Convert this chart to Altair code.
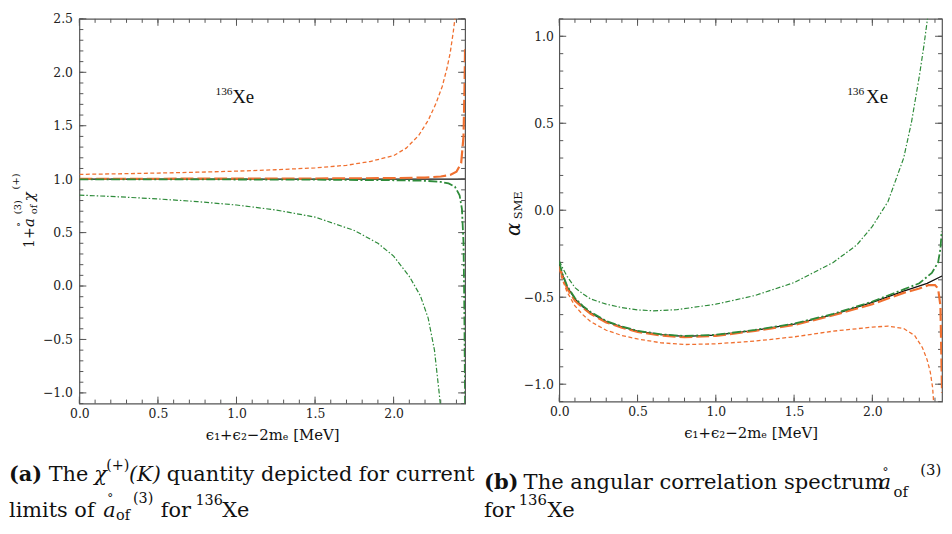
import altair as alt
import pandas as pd

# ---------------- data ----------------
# Panel (a): 1 + a chi^(+)
A_black_x = [0.0, 2.455]
A_black_y = [1.0, 1.0]
A_orfar_x = [0.0, 0.25, 0.5, 0.75, 1.0, 1.25, 1.5, 1.7, 1.85, 2.0, 2.08, 2.16, 2.22, 2.27, 2.31, 2.34, 2.36, 2.38, 2.39, 2.40]
A_orfar_y = [1.045, 1.05, 1.057, 1.065, 1.075, 1.088, 1.106, 1.13, 1.165, 1.22, 1.29, 1.41, 1.55, 1.71, 1.87, 2.04, 2.18, 2.38, 2.5, 2.65]
A_orclose_x = [0.0, 0.5, 1.0, 1.5, 2.0, 2.2, 2.3, 2.36, 2.40, 2.43, 2.445, 2.452, 2.455]
A_orclose_y = [1.004, 1.004, 1.005, 1.006, 1.01, 1.015, 1.025, 1.04, 1.07, 1.15, 1.4, 1.9, 2.25]
A_grfar_x = [0.0, 0.25, 0.5, 0.75, 1.0, 1.25, 1.5, 1.75, 1.9, 2.0, 2.1, 2.17, 2.22, 2.26, 2.29, 2.30]
A_grfar_y = [0.851, 0.835, 0.815, 0.79, 0.758, 0.712, 0.645, 0.52, 0.40, 0.28, 0.09, -0.09, -0.3, -0.6, -1.0, -1.15]
A_grclose_x = [0.0, 0.5, 1.0, 1.5, 2.0, 2.2, 2.3, 2.35, 2.39, 2.42, 2.435, 2.445, 2.45, 2.455]
A_grclose_y = [0.998, 0.998, 0.997, 0.995, 0.99, 0.985, 0.975, 0.96, 0.93, 0.85, 0.72, 0.4, -0.2, -1.1]

# Panel (b): alpha_SME
B_black_x = [0.0, 0.02, 0.05, 0.1, 0.15, 0.2, 0.3, 0.4, 0.5, 0.65, 0.8, 1.0, 1.25, 1.5, 1.75, 2.0, 2.2, 2.35, 2.445]
B_black_y = [-0.31, -0.37, -0.44, -0.51, -0.555, -0.59, -0.64, -0.67, -0.695, -0.715, -0.725, -0.718, -0.69, -0.655, -0.6, -0.53, -0.465, -0.42, -0.378]
B_grclose_x = [0.0, 0.02, 0.05, 0.1, 0.15, 0.2, 0.3, 0.4, 0.5, 0.65, 0.8, 1.0, 1.25, 1.5, 1.75, 2.0, 2.2, 2.3, 2.38, 2.42, 2.435, 2.443]
B_grclose_y = [-0.30, -0.365, -0.435, -0.505, -0.55, -0.585, -0.637, -0.668, -0.693, -0.713, -0.723, -0.716, -0.688, -0.652, -0.596, -0.525, -0.455, -0.42, -0.36, -0.30, -0.22, -0.12]
B_orclose_x = [0.0, 0.02, 0.05, 0.1, 0.15, 0.2, 0.3, 0.4, 0.5, 0.65, 0.8, 1.0, 1.25, 1.5, 1.75, 2.0, 2.2, 2.3, 2.36, 2.40, 2.42, 2.435, 2.44, 2.445]
B_orclose_y = [-0.32, -0.38, -0.45, -0.52, -0.56, -0.595, -0.645, -0.675, -0.70, -0.72, -0.73, -0.722, -0.694, -0.66, -0.604, -0.54, -0.475, -0.45, -0.43, -0.43, -0.45, -0.55, -0.8, -1.05]
B_orfar_x = [0.0, 0.02, 0.05, 0.1, 0.15, 0.2, 0.3, 0.4, 0.5, 0.65, 0.8, 1.0, 1.25, 1.5, 1.75, 2.0, 2.1, 2.2, 2.27, 2.32, 2.35, 2.37, 2.385, 2.395]
B_orfar_y = [-0.34, -0.40, -0.47, -0.55, -0.60, -0.64, -0.69, -0.72, -0.74, -0.762, -0.772, -0.768, -0.752, -0.728, -0.695, -0.672, -0.666, -0.68, -0.72, -0.79, -0.86, -0.93, -1.02, -1.15]
B_grfar_x = [0.0, 0.02, 0.05, 0.1, 0.15, 0.2, 0.3, 0.4, 0.5, 0.6, 0.75, 1.0, 1.25, 1.5, 1.75, 1.9, 2.0, 2.1, 2.2, 2.25, 2.3, 2.33, 2.352, 2.36]
B_grfar_y = [-0.29, -0.33, -0.38, -0.445, -0.48, -0.51, -0.54, -0.56, -0.573, -0.578, -0.572, -0.54, -0.49, -0.416, -0.30, -0.20, -0.093, 0.05, 0.30, 0.506, 0.77, 0.95, 1.1, 1.2]

X_MAJOR = [0.0, 0.5, 1.0, 1.5, 2.0]
X_MINOR = [round(0.1 * i, 1) for i in range(25)]
A_Y_MAJOR = [-1.0, -0.5, 0.0, 0.5, 1.0, 1.5, 2.0, 2.5]
A_Y_MINOR = [round(-1.1 + 0.1 * i, 1) for i in range(37)]
B_Y_MAJOR = [-1.0, -0.5, 0.0, 0.5, 1.0]
B_Y_MINOR = [round(-1.1 + 0.1 * i, 1) for i in range(23)]

XTITLE = "ϵ₁+ϵ₂−2mₑ [MeV]"

# ---------------- styling ----------------
ORANGE = "#f07030"
GREEN = "#2e8b3a"
BLACK = "#111111"
FRAME = "#555555"
SERIF = "DejaVu Serif"
TIMES = "Liberation Serif"
MAJ, MIN = 7, 4


def sc(dom):
    return alt.Scale(domain=dom, nice=False, zero=False)


def line(xs, ys, color, width, dash, xdom, ydom, xaxis=None, yaxis=None):
    df = pd.DataFrame({"x": xs, "y": ys})
    kw = dict(color=color, strokeWidth=width, clip=True)
    if dash:
        kw["strokeDash"] = dash
    return alt.Chart(df).mark_line(**kw).encode(
        x=alt.X("x:Q", scale=sc(xdom), axis=xaxis),
        y=alt.Y("y:Q", scale=sc(ydom), axis=yaxis),
    )


def x_ticks(values, xdom, H, length):
    df = pd.DataFrame({"v": values})
    base = alt.Chart(df).mark_rule(color=FRAME, strokeWidth=1)
    bottom = base.encode(x=alt.X("v:Q", scale=sc(xdom), axis=None), y=alt.value(H), y2=alt.value(H - length))
    top = base.encode(x=alt.X("v:Q", scale=sc(xdom), axis=None), y=alt.value(0), y2=alt.value(length))
    return [bottom, top]


def y_ticks(values, ydom, W, length):
    df = pd.DataFrame({"v": values})
    base = alt.Chart(df).mark_rule(color=FRAME, strokeWidth=1)
    left = base.encode(y=alt.Y("v:Q", scale=sc(ydom), axis=None), x=alt.value(0), x2=alt.value(length))
    right = base.encode(y=alt.Y("v:Q", scale=sc(ydom), axis=None), x=alt.value(W), x2=alt.value(W - length))
    return [left, right]


def piece(text, x, y, size, font=SERIF, style="normal", weight="normal", angle=0):
    return alt.Chart(alt.Data(values=[{}])).mark_text(
        text=text, font=font, fontSize=size, fontStyle=style, fontWeight=weight,
        angle=angle, align="left", baseline="alphabetic", color=BLACK
    ).encode(x=alt.value(x), y=alt.value(y))


def label136(xdom, ydom, x136, y136, xxe, yxe):
    df1 = pd.DataFrame({"x": [x136], "y": [y136], "t": ["136"]})
    df2 = pd.DataFrame({"x": [xxe], "y": [yxe], "t": ["Xe"]})
    enc = dict(x=alt.X("x:Q", scale=sc(xdom), axis=None),
               y=alt.Y("y:Q", scale=sc(ydom), axis=None),
               text="t:N")
    a = alt.Chart(df1).mark_text(font=TIMES, fontSize=11.5, align="left", baseline="alphabetic", color=BLACK).encode(**enc)
    b = alt.Chart(df2).mark_text(font=TIMES, fontSize=19, align="left", baseline="alphabetic", color=BLACK).encode(**enc)
    return [a, b]


def panel(W, H, xdom, ydom, ymaj, ymin, ylabpad, series, extra):
    (bx, by), (ofx, ofy), (ocx, ocy), (gfx, gfy), (gcx, gcy) = series
    xaxis = alt.Axis(orient="bottom", values=X_MAJOR, format=".1f", ticks=False, domain=False, grid=False,
                     labelPadding=4, labelFlush=False, title=XTITLE, titlePadding=8)
    yaxis = alt.Axis(orient="left", values=ymaj, format=".1f", ticks=False, domain=False, grid=False,
                     labelPadding=ylabpad, labelFlush=False, title=None)
    # the first layer carries the only axes (other layers: axis=None, independent axes)
    layers = [line(bx, by, BLACK, 1.3, None, xdom, ydom, xaxis, yaxis)]
    layers += x_ticks(X_MINOR, xdom, H, MIN) + x_ticks(X_MAJOR, xdom, H, MAJ)
    layers += y_ticks(ymin, ydom, W, MIN) + y_ticks(ymaj, ydom, W, MAJ)
    layers += [
        line(ofx, ofy, ORANGE, 1.3, [4, 2.5], xdom, ydom),
        line(ocx, ocy, ORANGE, 2.2, [13, 4], xdom, ydom),
        line(gfx, gfy, GREEN, 1.2, [5, 2, 1.5, 2], xdom, ydom),
        line(gcx, gcy, GREEN, 1.8, [9, 2.5, 2, 2.5], xdom, ydom),
    ]
    layers += extra
    return alt.layer(*layers).resolve_axis(x="independent", y="independent").properties(width=W, height=H)


# ---------------- panel (a) ----------------
AW, AH = 389, 388
A_XDOM, A_YDOM = [0, 2.455], [-1.1, 2.5]
a_extra = label136(A_XDOM, A_YDOM, 0.866, 1.789, 0.973, 1.714)
a_extra += [
    # y-axis title: 1 + a(3)of chi(+)
    piece("1+", -46, 231, 14, angle=270),
    piece("a", -46, 210, 15, style="italic", angle=270),
    piece("°", -56, 210, 10, angle=270),
    piece("(3)", -59, 197, 10, angle=270),
    piece("of", -43, 197, 10, angle=270),
    piece("χ", -46, 184, 15, style="italic", angle=270),
    piece("(+)", -61, 172, 10, angle=270),
    # caption (a)
    piece("(a)", -71, 466, 21, weight="bold"),
    piece("The", -31, 466, 21),
    piece("χ", 15, 466, 21, style="italic"),
    piece("(+)", 27, 455, 14.5),
    piece("(K)", 50, 466, 21, style="italic"),
    piece("quantity depicted for current", 88, 466, 21),
    piece("limits of", -71, 502, 21),
    piece("a", 24, 502, 21, style="italic"),
    piece("°", 28, 487, 12),
    piece("of", 37, 505, 14.5),
    piece("(3)", 54, 488, 14.5),
    piece("for", 82, 502, 21),
    piece("136", 117, 490, 14.5),
    piece("Xe", 144, 502, 21),
]
left = panel(AW, AH, A_XDOM, A_YDOM, A_Y_MAJOR, A_Y_MINOR, 7,
             [(A_black_x, A_black_y), (A_orfar_x, A_orfar_y), (A_orclose_x, A_orclose_y),
              (A_grfar_x, A_grfar_y), (A_grclose_x, A_grclose_y)], a_extra)

# ---------------- panel (b) ----------------
BW, BH = 386, 386
B_XDOM, B_YDOM = [0, 2.445], [-1.1, 1.1]
b_extra = label136(B_XDOM, B_YDOM, 1.839, 0.663, 1.960, 0.617)
b_extra += [
    piece("α", -40, 219, 20, style="italic", angle=270),
    piece("SME", -38, 202, 11.5, angle=270),
    # caption (b)
    piece("(b)", -76, 474, 21.25, weight="bold"),
    piece("The angular correlation spectrum", -36, 474, 21.25),
    piece("a", 322, 474, 21.25, style="italic"),
    piece("°", 326, 461, 12),
    piece("of", 337, 482, 15),
    piece("(3)", 364, 460, 15),
    piece("for", -76, 502, 21.25),
    piece("136", -41, 490, 15),
    piece("Xe", -12, 502, 21.25),
]
right = panel(BW, BH, B_XDOM, B_YDOM, B_Y_MAJOR, B_Y_MINOR, 6,
              [(B_black_x, B_black_y), (B_orfar_x, B_orfar_y), (B_orclose_x, B_orclose_y),
               (B_grfar_x, B_grfar_y), (B_grclose_x, B_grclose_y)], b_extra)

chart = alt.hconcat(left, right, spacing=95, bounds="flush").properties(
    padding={"left": 0, "top": 1.75, "right": 0, "bottom": 0}
).configure_view(stroke=FRAME, strokeWidth=1.2).configure_axis(
    labelFont=SERIF, labelFontSize=12.5, labelColor="#222222",
    titleFont=SERIF, titleFontSize=15, titleFontWeight="normal", titleColor=BLACK
)

chart.save("out.html", embed_options={"renderer": "svg", "actions": False})
